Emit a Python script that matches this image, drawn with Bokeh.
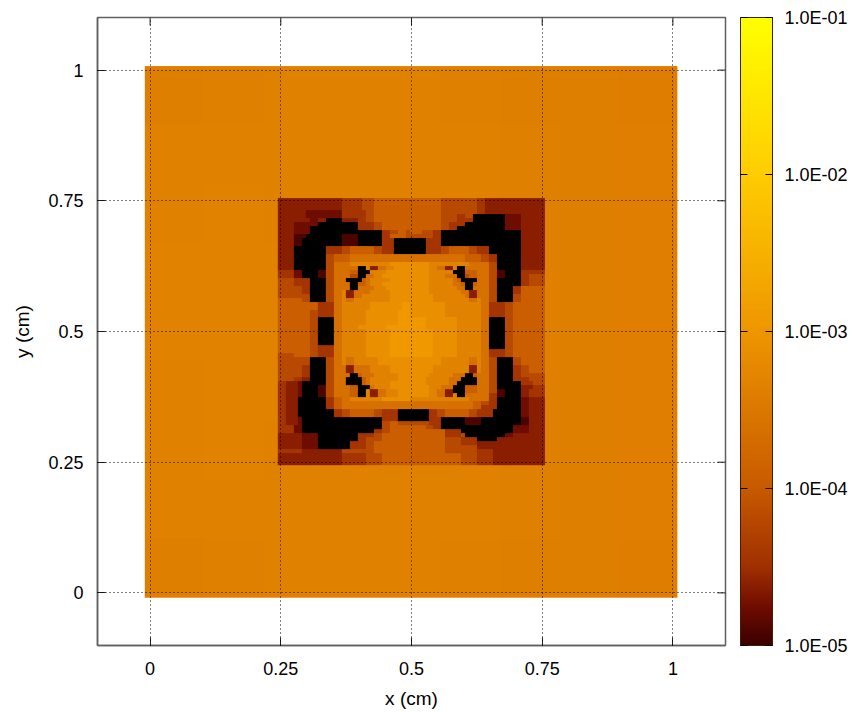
import numpy as np
from bokeh.embed import file_html
from bokeh.resources import INLINE
from bokeh.plotting import figure
from bokeh.models import (ColorBar, LogColorMapper, FixedTicker, Range1d)

# tick labels
X_TICKS = [0, 0.25, 0.5, 0.75, 1]
TICK_TEXT = {0: "0", 0.25: "0.25", 0.5: "0.5", 0.75: "0.75", 1: "1"}
CBAR_TICKS = [1e-5, 1e-4, 1e-3, 1e-2, 1e-1]
CBAR_TEXT = ["1.0E-05", "1.0E-04", "1.0E-03", "1.0E-02", "1.0E-01"]

# colour scale anchors: position along the bar, colour
STOPS = [(0.0, (0x3a, 0, 0)), (0.06, (0x70, 0x0c, 0)), (0.125, (0xa0, 0x30, 0)),
         (0.25, (0xc8, 0x5a, 0)), (0.5, (0xee, 0x96, 0)), (0.75, (0xff, 0xcc, 0)),
         (1.0, (0xff, 0xff, 0))]

# read levels for the finely resolved central square ('#' is below the colour range)
LEVEL_LOG10 = {"#": -6.0, "0": -4.92, "1": -4.76, "2": -4.62, "3": -4.44, "4": -4.2,
               "5": -3.92, "6": -3.64, "7": -3.32, "8": -3.1, "9": -2.96}

TOP_LEFT = [
"2222222222222222 33333 444 5555555555",
"2222222222222222 33333 444 5555555555",
"2222222222222222 33333 444 5555555555",
"2222222 111111111 333333 44 5555555555",
"2222222 111111111 333333 44 5555555555",
"2222 2222 11 22 #### 2222 33 44 5555 555555",
"2222 1111 11 ########## 3333 44 55 555555",
"2222 1111 ############ 3333 44 55 555555",
"2222 1111 ################## 33 44 55 44",
"2222 000 ######### 0000 ###### 33 55 5544",
"2222 00 ########## 0000 ###### 333 #####",
"2222 00 ########## 0000 ###### 333 #####",
"2222 ######## 3333 44 555555 44 333 #####",
"2222 ######## 3333 44 555555 44 333 #####",
"2222 ######## 44 55 55 6666666666666666",
"2222 ######## 44 55 55 6666666666666666",
"2222 ######## 44 66 66 77 7777 7777 888888",
"2222 ######## 44 66 66 66 ## 7 22 66 77 88888",
"3333 11 #### 00 44 66 66 55 ### 7777 8888888",
"3333 11 #### 00 44 66 66 44 ## 66 77 88888888",
"4444 3333 #### 44 66 6 #### 5 6 77 777 888888",
"4444 3333 #### 44 66 6 6 ## 55 6 777 88888888",
"444444 33 #### 44 66 66 ## 66 66 777 8888888",
"444444 33 #### 44 66 7 22 66 6677 777 888888",
"44444444 #### 44 66 7 22 66 7777 777 888888",
"55555544 #### 44 66 7 66 77 7777 777 888888",
"55555555 55 3333 66 7777777 88888888 999",
"55555555 55 3333 66 7777777 88888888 999",
"55555555 44 3333 66 777777 88888888 9999",
"55555555 44 3333 66 777777 88888888 9999",
"55555555 44 #### 66 777777 88888888 9999",
"55555555 44 #### 66 777777 88888888 9999",
"55555555 44 #### 66 7777 8888888 9999999",
"55555555 44 #### 66 7777 8888888 9999999",
]

TOP_RIGHT = [
"55555555 4444 44444 33 222222222 222222",
"55555555 4444 44444 33 222222222 222222",
"55555555 4444 44444 33 222222222 222222",
"55555555 4444 44444 33 222222222 222222",
"55555555 44 44 33 44 ######## 1111 222222",
"55555555 44 44 33 33 ######## 1111 222222",
"55555555 44 33 33 ########## 1111 222222",
"55555555 44 33 ## ########## 1111 222222",
"55544433 #################### 222222",
"44444433 #################### 222222",
"#### 3333 #################### 222222",
"#### 3333 #################### 222222",
"#### 3333 445555544 3 33 ######## 222222",
"#### 3333 445555544 3 33 ######## 222222",
"66666666666666 55 5544 33 ###### 222222",
"66666666666666 55 5544 33 ###### 222222",
"88888 7777 777777 666 66 44 ###### 222222",
"88888 77 66 22 7 ## 6 66 6 66 44 ###### 222222",
"88888 77 77 77 ### 5 55 6 66 44 00 #### 33 3333",
"88888 77 77 66 6 ## 4 55 6 66 44 00 #### 33 4444",
"88888 77 77 77 6 5 #### 6 66 44 ###### 33 4444",
"88888 7777 77 6 6 5 ## 5 6 66 44 ###### 33 4444",
"88888 7777 77 7 6 6 ## 6 6 66 44 #### 33 555555",
"88888 7777 77 7 7 6 6 22 6 66 44 #### 33 555555",
"88888 8777 77 77 7 6 22 6 66 44 #### 44 555555",
"88888 8777 77 77 7 7 66 7 66 44 #### 44 555555",
"888888888777777 77 7 66 3333 44 55555555",
"888888888777777 77 7 66 3333 44 55555555",
"888888888777777 77 7 66 3333 44 55555555",
"888888888777777 77 7 66 3333 44 55555555",
"999988888888777 777 66 #### 44 55555555",
"999988888888777 777 66 #### 44 55555555",
"999988888888777 777 66 #### 44 55555555",
"999988888888777 777 66 #### 44 55555555",
]

BOTTOM_LEFT = [
"5555555544 #### 66 777777 888888 999999",
"5555555544 #### 66 777777 888888 999999",
"5555555544 #### 66 777777 888888 999999",
"5555555544 #### 66 777777 888888 999999",
"5555555544 3333 66 777777 888888 999999",
"5555555544 3333 66 777777 888888 999999",
"4444555544 3333 66 777777 888888 999999",
"44444444 #### 44 66 7 66 77 7777 8888 88888",
"44444444 #### 44 66 7 66 77 7777 8888 88888",
"44444433 #### 44 66 6 22 66 66 77 777 888888",
"44444433 #### 44 66 6 22 66 66 77 777 888888",
"44444433 #### 44 66 6 6 ## 5 6 66 77 7777 8888",
"44443322 #### 44 66 6 #### 5 6 77 77 7778888",
"33 222 1 ###### 44 66 6 #### 5 6 77 777 888888",
"33 222 1 #### 00 44 66 66 55 ### 6 77 77 888888",
"33 222 1 #### 00 44 66 66 55 ## 7 22 6 6 777 8888",
"33 222 1 #### 00 44 66 66 55 ## 7 22 6 6 777 8888",
"33 222 ####### 33 55 66 77777777 88888888",
"33 222 ####### 33 55 66 6666666666666666",
"33 222 ####### 33 55 66 6666666666666666",
"33 222 ######### 33 4455555544 3333 ####",
"33 222 ######### 33 4455555544 3333 ####",
"33 222 1 #################### 3333 ####",
"33 222 1 #################### 4455 4444",
"3333 11 #################### 44555555",
"3333 11 ################## 33 44555555",
"222222 1111 ########## 3333 44 55555555",
"222222 1111 ########## 33 44 44 55555555",
"222222 1111 ######## 3333 44 55 55555555",
"222222 1111 ######## 3333 44 55 55555555",
"333333 2222222222 4444 4444 5555555555",
"2222222222222222 3333 33 44 4455555555",
"2222222222222222 3333 33 44 4455555555",
"2222222222222222 3333 33 44 4455555555",
]

BOTTOM_RIGHT = [
"999999 888888 777777 66 #### 44 55555555",
"999999 888888 777777 66 #### 44 55555555",
"999999 888888 777777 66 #### 44 55555555",
"999999 888888 777777 66 #### 44 55555555",
"999999 888888 777777 66 #### 44 55555555",
"999999 888888 777777 66 3333 44 55555555",
"999999 888888 777777 66 3333 44 55555555",
"888888887777777 66 7 66 44 #### 44 555555",
"888888887777777 66 7 66 44 #### 44 555555",
"888888777777777 22 7 66 44 #### 33 445555",
"888888777777777 22 7 66 44 #### 33 445555",
"88888777777666 ## 5 6 66 44 #### 33 444444",
"8888777777666 #### 6 66 44 #### 33 334444",
"888877777766 # #### 6 66 44 ###### 33 3444",
"88888777666 ### 555 6 66 44 ###### 222 333",
"88888 77 66 22 ### 555 6 66 44 00 #### 22 3333",
"88888 77 66 22 7 ## 6 66 6 66 33 00 #### 22 3333",
"777777777777777 66 6 66 33 ###### 112222",
"6666666666666666 5544 33 ###### 112222",
"6666666666666666 5533 33 ###### 112222",
"##### 33 4455555544 33 33 ####### 112222",
"##### 33 4455555544 33 33 ####### 112222",
"##### 333 ###### 0000 ########## 00 2222",
"44444 333 ###### 0000 ########## 00 2222",
"5555 44 33 ################## 1111 2222",
"555555555 3333 ############# 1111 2222",
"555555555 3333 4 ########## 11 22222222",
"555555555 4444 3333 ##### 22 2222222222",
"555555555 4444 3333 22222222222222222",
"555555555 4444 4444 22222222222222222",
"555555555 4444 4444 3333 2222222222222",
"555555555 5555 4444 3333 2222222222222",
"555555555 5555 4444 3333 2222222222222",
"555555555 5555 4444 3333 2222222222222",
]

# coarse read of the outer square, top row first
OUTER_VALUES = [
    [4.1e-4, 4.3e-4, 4.4e-4, 4.4e-4, 4.4e-4, 4.3e-4, 4.2e-4, 4.1e-4, 3.9e-4],
    [4.4e-4, 4.5e-4, 4.5e-4, 4.4e-4, 4.4e-4, 4.4e-4, 4.3e-4, 4.2e-4, 4.0e-4],
    [4.5e-4, 4.6e-4, 4.5e-4, 4.5e-4, 4.4e-4, 4.4e-4, 4.3e-4, 4.2e-4, 4.0e-4],
    [4.6e-4, 4.7e-4, 4.6e-4, 4.5e-4, 4.4e-4, 4.4e-4, 4.3e-4, 4.2e-4, 4.0e-4],
    [4.6e-4, 4.7e-4, 4.6e-4, 4.5e-4, 4.4e-4, 4.4e-4, 4.3e-4, 4.2e-4, 4.0e-4],
    [4.5e-4, 4.7e-4, 4.6e-4, 4.5e-4, 4.4e-4, 4.4e-4, 4.3e-4, 4.2e-4, 4.0e-4],
    [4.5e-4, 4.6e-4, 4.5e-4, 4.5e-4, 4.4e-4, 4.4e-4, 4.3e-4, 4.2e-4, 4.0e-4],
    [4.4e-4, 4.5e-4, 4.5e-4, 4.4e-4, 4.4e-4, 4.4e-4, 4.3e-4, 4.2e-4, 4.0e-4],
    [4.1e-4, 4.3e-4, 4.4e-4, 4.4e-4, 4.4e-4, 4.3e-4, 4.2e-4, 4.1e-4, 3.9e-4],
]


def decode(rows):
    out = []
    for r in rows:
        r = r.replace(" ", "")
        assert len(r) == 34, r
        out.append([10.0 ** LEVEL_LOG10[c] for c in r])
    return np.array(out)


def build_palette(n=256):
    pos = np.linspace(0, 1, n)
    xs = [s[0] for s in STOPS]
    chans = [np.interp(pos, xs, [s[1][i] for s in STOPS]) for i in range(3)]
    return ["#%02x%02x%02x" % (int(round(a)), int(round(b)), int(round(c))) for a, b, c in zip(*chans)]


tl, tr, bl, br = decode(TOP_LEFT), decode(TOP_RIGHT), decode(BOTTOM_LEFT), decode(BOTTOM_RIGHT)
top = np.hstack([tl[:-1, :-1], tr[:-1, :]])
bot = np.hstack([bl[:, :-1], br[:, :]])
inner = np.flipud(np.vstack([top, bot]))
outer = np.flipud(np.array(OUTER_VALUES))

mapper = LogColorMapper(palette=build_palette(), low=1e-5, high=1e-1, low_color="#000000")

FONT = "Liberation Sans"
AXIS_MIN, AXIS_MAX = -0.1006, 1.1006
p = figure(frame_width=628, frame_height=628, output_backend="svg", toolbar_location=None,
           x_range=Range1d(AXIS_MIN, AXIS_MAX), y_range=Range1d(AXIS_MIN, AXIS_MAX),
           min_border_left=97, min_border_right=0, min_border_top=17, min_border_bottom=59,
           x_axis_label="x (cm)", y_axis_label="y (cm)",
           outline_line_color="#606060", outline_line_width=1.5, background_fill_color="white")

p.image(image=[outer], x=-0.0101, y=-0.0092, dw=1.0187, dh=1.0169, color_mapper=mapper)
p.image(image=[inner], x=0.2443, y=0.2443, dw=0.5109, dh=0.5109, color_mapper=mapper)


def style_axis(ax, standoff):
    ax.ticker = FixedTicker(ticks=X_TICKS)
    ax.major_label_overrides = dict(TICK_TEXT)
    ax.major_tick_in = 8
    ax.major_tick_out = 0
    ax.minor_tick_in = 0
    ax.minor_tick_out = 0
    ax.major_tick_line_color = "#202020"
    ax.axis_line_color = "#606060"
    ax.axis_line_width = 1.5
    ax.major_label_text_font = FONT
    ax.major_label_text_font_size = "18px"
    ax.major_label_text_color = "black"
    ax.major_label_standoff = standoff
    ax.axis_label_text_font = FONT
    ax.axis_label_text_font_size = "19px"
    ax.axis_label_text_font_style = "normal"
    ax.axis_label_text_color = "black"
    ax.axis_label_standoff = 10


style_axis(p.xaxis[0], 16)
style_axis(p.yaxis[0], 14)
p.yaxis[0].major_label_orientation = "horizontal"
p.yaxis[0].axis_label_standoff = 12

for g in (p.xgrid[0], p.ygrid[0]):
    g.ticker = FixedTicker(ticks=X_TICKS)
    g.level = "overlay"
    g.grid_line_color = "#000000"
    g.grid_line_dash = "1 3"
    g.grid_line_width = 1

# mirrored ticks on the top and right of the frame, as in the reference
p.ray(x=X_TICKS, y=[AXIS_MAX] * len(X_TICKS), length=8, length_units="screen",
      angle=-np.pi / 2, line_color="#202020", line_width=1, level="overlay")
p.ray(x=[AXIS_MAX] * len(X_TICKS), y=X_TICKS, length=8, length_units="screen",
      angle=np.pi, line_color="#202020", line_width=1, level="overlay")

cbar = ColorBar(color_mapper=mapper, ticker=FixedTicker(ticks=CBAR_TICKS),
                major_label_overrides=dict(zip(CBAR_TICKS, CBAR_TEXT)),
                width=32, height=628, padding=15, margin=0, location=(0, -15),
                major_label_text_font=FONT, major_label_text_font_size="18px",
                major_label_text_color="black", label_standoff=12,
                major_tick_in=32, major_tick_out=0, minor_tick_in=0, minor_tick_out=0,
                major_tick_line_color="black", major_tick_line_dash="7 18 7",
                bar_line_color="#402000", bar_line_width=1,
                background_fill_alpha=0, border_line_color=None)
p.add_layout(cbar, "right")

open("out.html", "w").write(file_html(p, INLINE))
